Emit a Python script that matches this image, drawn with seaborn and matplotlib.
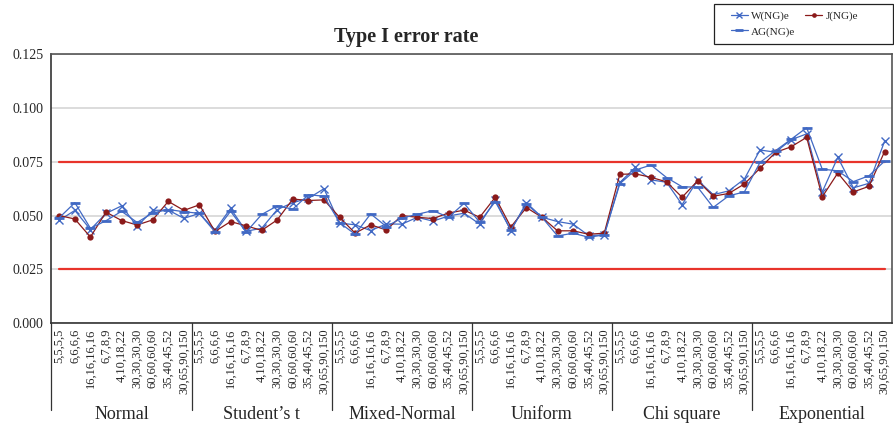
import matplotlib
matplotlib.use("Agg")
import matplotlib.pyplot as plt
import matplotlib.transforms as mtransforms
from matplotlib.lines import Line2D
from matplotlib.patches import Rectangle
import numpy as np
import pandas as pd
import seaborn as sns

# ---- data ---------------------------------------------------------------
distributions = ["Normal", "Student\u2019s t", "Mixed-Normal", "Uniform",
                 "Chi square", "Exponential"]
sample_sizes = ["5,5,5,5", "6,6,6,6", "16,16,16,16", "6,7,8,9", "4,10,18,22",
                "30,30,30,30", "60,60,60,60", "35,40,45,52", "30,65,90,150"]

w_nge = [0.0478, 0.0524, 0.0435, 0.0510, 0.0545, 0.0450, 0.0524, 0.0526, 0.0487,
         0.0510, 0.0432, 0.0533, 0.0427, 0.0441, 0.0528, 0.0560, 0.0580, 0.0625,
         0.0465, 0.0457, 0.0430, 0.0461, 0.0460, 0.0492, 0.0474, 0.0498, 0.0511,
         0.0460, 0.0573, 0.0430, 0.0560, 0.0492, 0.0472, 0.0460, 0.0407, 0.0410,
         0.0654, 0.0724, 0.0666, 0.0655, 0.0551, 0.0665, 0.0597, 0.0615, 0.0670,
         0.0805, 0.0795, 0.0853, 0.0880, 0.0610, 0.0771, 0.0629, 0.0650, 0.0845]

j_nge = [0.0500, 0.0484, 0.0400, 0.0516, 0.0477, 0.0456, 0.0480, 0.0566, 0.0524,
         0.0550, 0.0426, 0.0472, 0.0452, 0.0431, 0.0480, 0.0577, 0.0570, 0.0573,
         0.0492, 0.0418, 0.0457, 0.0433, 0.0500, 0.0492, 0.0486, 0.0512, 0.0525,
         0.0492, 0.0585, 0.0447, 0.0537, 0.0492, 0.0429, 0.0429, 0.0413, 0.0418,
         0.0692, 0.0694, 0.0678, 0.0657, 0.0585, 0.0662, 0.0590, 0.0603, 0.0647,
         0.0720, 0.0794, 0.0820, 0.0864, 0.0587, 0.0698, 0.0610, 0.0636, 0.0797]

ag_nge = [0.0490, 0.0560, 0.0441, 0.0476, 0.0520, 0.0468, 0.0512, 0.0528, 0.0518,
          0.0510, 0.0424, 0.0520, 0.0423, 0.0505, 0.0545, 0.0530, 0.0597, 0.0590,
          0.0467, 0.0413, 0.0508, 0.0449, 0.0488, 0.0506, 0.0523, 0.0492, 0.0557,
          0.0469, 0.0565, 0.0433, 0.0553, 0.0492, 0.0405, 0.0418, 0.0399, 0.0410,
          0.0648, 0.0712, 0.0735, 0.0677, 0.0634, 0.0632, 0.0538, 0.0592, 0.0610,
          0.0747, 0.0802, 0.0855, 0.0909, 0.0716, 0.0708, 0.0658, 0.0685, 0.0753]

lower_bound = 0.025
upper_bound = 0.075

y_ticks = [0.000, 0.025, 0.050, 0.075, 0.100, 0.125]

# ---- styling ------------------------------------------------------------
sns.set_style("white")
plt.rcParams["font.family"] = ["Liberation Serif", "DejaVu Serif"]

blue = "#4169c4"
maroon = "#8b1a1a"
red = "#e8342b"
n_groups = len(distributions)
n_sizes = len(sample_sizes)
n = n_groups * n_sizes
pos = np.arange(n)

series_names = ["W(NG)e", "J(NG)e", "AG(NG)e"]
df = pd.DataFrame({
    "pos": np.tile(pos, 3),
    "rate": w_nge + j_nge + ag_nge,
    "series": np.repeat(series_names, n),
})
bounds = pd.DataFrame({
    "pos": [0, n - 1, 0, n - 1],
    "rate": [lower_bound, lower_bound, upper_bound, upper_bound],
    "bound": ["lower", "lower", "upper", "upper"],
})

palette = {"W(NG)e": blue, "J(NG)e": maroon, "AG(NG)e": blue}
markers = {"W(NG)e": "x", "J(NG)e": "o", "AG(NG)e": "_"}
msize = {"W(NG)e": 5.5, "J(NG)e": 4.5, "AG(NG)e": 7}
medge = {"W(NG)e": 1.0, "J(NG)e": 0.0, "AG(NG)e": 2.0}

fig = plt.figure(figsize=(8.94, 4.25), dpi=100)
ax = fig.add_axes([0.0576, 0.240, 0.9405, 0.632])

sns.lineplot(data=bounds, x="pos", y="rate", units="bound", estimator=None,
             color=red, lw=1.6, legend=False, ax=ax, zorder=2)

legend_handles = {}
for name in series_names:
    sub = df[df["series"] == name]
    sns.lineplot(data=sub, x="pos", y="rate", color=palette[name], lw=0.9,
                 legend=False, ax=ax, zorder=3)
    line = ax.lines[-1]
    line.set_linestyle("-")
    line.set_marker(markers[name])
    line.set_markersize(msize[name])
    line.set_markeredgewidth(medge[name])
    line.set_markerfacecolor(palette[name])
    line.set_markeredgecolor(palette[name])
    legend_handles[name] = Line2D([], [], color=palette[name], lw=0.9,
                                  marker=markers[name], ms=msize[name] * 0.75,
                                  mew=medge[name], mfc=palette[name],
                                  mec=palette[name])

ax.set_xlim(-0.5, n - 0.5)
ax.set_ylim(0, 0.125)
ax.set_yticks(y_ticks)
ax.set_yticklabels([f"{v:.3f}" for v in y_ticks], fontsize=10)
ax.yaxis.grid(True, color="#d9d9d9", lw=1.3)
ax.set_axisbelow(True)
ax.tick_params(axis="y", length=4, width=1, color="#333333", pad=2)
ax.set_xlabel("")
ax.set_ylabel("")

# category tick labels at centres, separator ticks at boundaries
ax.set_xticks(pos)
ax.set_xticklabels(sample_sizes * n_groups, rotation=90, fontsize=9)
ax.tick_params(axis="x", which="major", length=0, pad=4)
ax.set_xticks(np.arange(-0.5, n, 1.0), minor=True)
ax.tick_params(axis="x", which="minor", length=47, width=0.9, color="#333333")

for side in ["left", "bottom"]:
    ax.spines[side].set_color("#333333")
    ax.spines[side].set_linewidth(1.2)
for side in ["top", "right"]:
    ax.spines[side].set_visible(True)
    ax.spines[side].set_color("#555555")
    ax.spines[side].set_linewidth(1.2)

# group dividers and group names below the tick labels
trans = mtransforms.blended_transform_factory(ax.transData, ax.transAxes)
for g in range(n_groups):
    x0 = g * n_sizes - 0.5
    ax.plot([x0, x0], [0, -0.324], transform=trans, color="#333333",
            lw=0.9, clip_on=False)
    ax.text(x0 + n_sizes / 2, -0.34, distributions[g], transform=trans,
            ha="center", va="center", fontsize=13)

fig.text(406 / 894, 1 - 37 / 425, "Type I error rate", ha="center",
         va="center", fontsize=14.5, fontweight="bold")

# legend: boxed, two entries on the first row, one on the second
W, H = 894, 425
fig.patches.append(Rectangle((714 / W, 1 - 44 / H), 179 / W, 40 / H,
                             transform=fig.transFigure, fill=True,
                             facecolor="white", edgecolor="#222222", lw=0.9,
                             zorder=5))
order = ["W(NG)e", "AG(NG)e", "J(NG)e"]
leg = fig.legend([legend_handles[k] for k in order], order, ncol=2,
                 loc="upper left", bbox_to_anchor=(731 / W, 1 - 11 / H),
                 fontsize=8, frameon=False, handlelength=1.5,
                 columnspacing=0.9, handletextpad=0.3, borderpad=0,
                 labelspacing=0.5, borderaxespad=0)
leg.set_zorder(6)

fig.savefig("out.png", dpi=100)
